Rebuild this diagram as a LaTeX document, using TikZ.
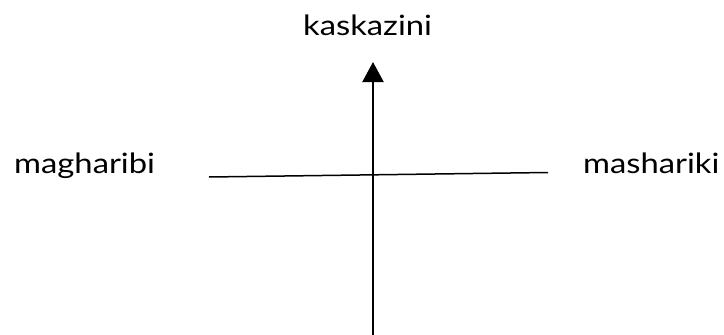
\documentclass[tikz,border=0pt]{standalone}
\usepackage{fontspec}
\setmainfont{Lato}[FakeStretch=1.17]
\usetikzlibrary{arrows.meta}
\begin{document}
\begin{tikzpicture}[x=1pt,y=-1pt,
  lbl/.style={anchor=base west,inner sep=0pt,font=\fontsize{28}{33}\selectfont},
  axis/.style={line width=2.2pt},
  hline/.style={line width=1.5pt}]
\useasboundingbox (0,0) rectangle (724,335);
\node[lbl] (n) at (303,35) {kaskazini};
\node[lbl] (w) at (14,173) {magharibi};
\node[lbl] (e) at (583,173) {mashariki};
\coordinate (bot) at (373,336);
\coordinate (top) at (373,62);
\coordinate (hl) at (209,177);
\coordinate (hr) at (548,172.5);
\draw[hline] (hl) -- (hr);
\draw[axis,-{Triangle[width=21pt,length=20pt]}] (bot) -- (top);
\end{tikzpicture}
\end{document}
